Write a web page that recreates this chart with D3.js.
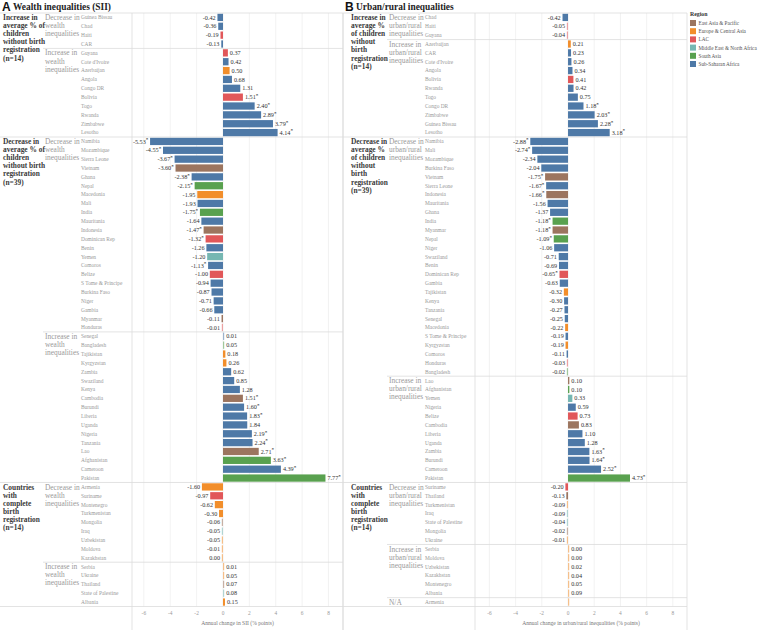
<!DOCTYPE html>
<html><head><meta charset="utf-8">
<script src="https://cdn.jsdelivr.net/npm/d3@7"></script>
<style>body{margin:0;background:#fff}svg{display:block}</style>
</head><body>
<svg id="c" width="764" height="630"></svg>
<script>
// ---------- data ----------
const regionNames = ["East Asia & Pacific","Europe & Central Asia","LAC","Middle East & North Africa","South Asia","Sub-Saharan Africa"];
const regionCodes = ["EAP","ECA","LAC","MENA","SA","SSA"];
const regionColors = ["#9c755f","#f28e2b","#e15759","#76b7b2","#59a14f","#4e79a7"];

const groupLabelsA = [
  ["Increase in","average % of","children","without birth","registration","(n=14)"],
  ["Decrease in","average % of","children","without birth","registration","(n=39)"],
  ["Countries","with","complete","birth","registration","(n=14)"]
];
const groupLabelsB = [
  ["Increase in","average %","of children","without","birth","registration","(n=14)"],
  ["Decrease in","average %","of children","without","birth","registration","(n=39)"],
  ["Countries","with","complete","birth","registration","(n=14)"]
];

const subLabelsA = [["Decrease in","wealth","inequalities"],["Increase in","wealth","inequalities"],
  ["Decrease in","wealth","inequalities"],["Increase in","wealth","inequalities"],
  ["Decrease in","wealth","inequalities"],["Increase in","wealth","inequalities"]];
const subSizesA = [4,10,22,17,9,5];
const subGroupA = [0,0,1,1,2,2];
const subSideA = [-1,1,-1,1,-1,1];

const subLabelsB = [["Decrease in","urban/rural","inequalities"],["Increase in","urban/rural","inequalities"],
  ["Decrease in","urban/rural","inequalities"],["Increase in","urban/rural","inequalities"],
  ["Decrease in","urban/rural","inequalities"],["Increase in","urban/rural","inequalities"],["N/A"]];
const subSizesB = [3,11,27,12,7,6,1];
const subGroupB = [0,0,1,1,2,2,2];
const subSideB = [-1,1,-1,1,-1,1,1];

const countriesA = ["Guinea Bissau","Chad","Haiti","CAR",
 "Guyana","Cote d'Ivoire","Azerbaijan","Angola","Congo DR","Bolivia","Togo","Rwanda","Zimbabwe","Lesotho",
 "Namibia","Mozambique","Sierra Leone","Vietnam","Ghana","Nepal","Macedonia","Mali","India","Mauritania","Indonesia","Dominican Rep","Benin","Yemen","Comoros","Belize","S Tome & Principe","Burkina Faso","Niger","Gambia","Myanmar","Honduras",
 "Senegal","Bangladesh","Tajikistan","Kyrgyzstan","Zambia","Swaziland","Kenya","Cambodia","Burundi","Liberia","Uganda","Nigeria","Tanzania","Lao","Afghanistan","Cameroon","Pakistan",
 "Armenia","Suriname","Montenegro","Turkmenistan","Mongolia","Iraq","Uzbekistan","Moldova","Kazakhstan",
 "Serbia","Ukraine","Thailand","State of Palestine","Albania"];
const valuesA = [-0.42,-0.36,-0.19,-0.13,
 0.37,0.42,0.50,0.68,1.31,1.51,2.40,2.89,3.79,4.14,
 -5.53,-4.55,-3.67,-3.60,-2.38,-2.15,-1.95,-1.93,-1.75,-1.64,-1.47,-1.32,-1.26,-1.20,-1.13,-1.00,-0.94,-0.87,-0.71,-0.66,-0.11,-0.01,
 0.01,0.05,0.18,0.26,0.62,0.85,1.28,1.51,1.60,1.83,1.84,2.19,2.24,2.71,3.63,4.39,7.77,
 -1.60,-0.97,-0.62,-0.30,-0.06,-0.05,-0.05,-0.01,0.00,
 0.01,0.05,0.07,0.08,0.15];
const regionsA = ["SSA","SSA","LAC","SSA",
 "LAC","SSA","ECA","SSA","SSA","LAC","SSA","SSA","SSA","SSA",
 "SSA","SSA","SSA","EAP","SSA","SA","ECA","SSA","SA","SSA","EAP","LAC","SSA","MENA","SSA","LAC","SSA","SSA","SSA","SSA","EAP","LAC",
 "SSA","SA","ECA","ECA","SSA","SSA","SSA","EAP","SSA","SSA","SSA","SSA","SSA","EAP","SA","SSA","SA",
 "ECA","LAC","ECA","ECA","EAP","MENA","ECA","ECA","ECA",
 "ECA","ECA","EAP","MENA","ECA"];
const starsA = [0,0,0,0,
 0,0,0,0,0,1,1,1,1,1,
 1,1,1,1,1,1,0,0,1,0,1,1,0,0,1,0,0,0,0,0,0,0,
 0,0,0,0,0,0,0,1,1,1,0,1,1,1,1,1,1,
 0,0,0,0,0,0,0,0,0,
 0,0,0,0,0];

const countriesB = ["Chad","Haiti","Guyana",
 "Azerbaijan","CAR","Cote d'Ivoire","Angola","Bolivia","Rwanda","Togo","Congo DR","Zimbabwe","Guinea Bissau","Lesotho",
 "Namibia","Mali","Mozambique","Burkina Faso","Vietnam","Sierra Leone","Indonesia","Mauritania","Ghana","India","Myanmar","Nepal","Niger","Swaziland","Benin","Dominican Rep","Gambia","Tajikistan","Kenya","Tanzania","Senegal","Macedonia","S Tome & Principe","Kyrgyzstan","Comoros","Honduras","Bangladesh",
 "Lao","Afghanistan","Yemen","Nigeria","Belize","Cambodia","Liberia","Uganda","Zambia","Burundi","Cameroon","Pakistan",
 "Suriname","Thailand","Turkmenistan","Iraq","State of Palestine","Mongolia","Ukraine",
 "Serbia","Moldova","Uzbekistan","Kazakhstan","Montenegro","Albania",
 "Armenia"];
const valuesB = [-0.42,-0.05,-0.04,
 0.21,0.23,0.26,0.34,0.41,0.42,0.75,1.18,2.03,2.28,3.18,
 -2.88,-2.74,-2.34,-2.04,-1.75,-1.67,-1.66,-1.56,-1.37,-1.18,-1.18,-1.09,-1.06,-0.71,-0.69,-0.65,-0.63,-0.32,-0.30,-0.27,-0.25,-0.22,-0.19,-0.19,-0.11,-0.03,-0.02,
 0.10,0.10,0.33,0.59,0.73,0.83,1.10,1.28,1.63,1.64,2.52,4.73,
 -0.20,-0.13,-0.09,-0.09,-0.04,-0.02,-0.01,
 0.00,0.00,0.02,0.04,0.05,0.09,
 null];
const regionsB = ["SSA","LAC","LAC",
 "ECA","SSA","SSA","SSA","LAC","SSA","SSA","SSA","SSA","SSA","SSA",
 "SSA","SSA","SSA","SSA","EAP","SSA","EAP","SSA","SSA","SA","EAP","SA","SSA","SSA","SSA","LAC","SSA","ECA","SSA","SSA","SSA","ECA","SSA","ECA","SSA","LAC","SA",
 "EAP","SA","MENA","SSA","LAC","EAP","SSA","SSA","SSA","SSA","SSA","SA",
 "LAC","EAP","ECA","MENA","MENA","EAP","ECA",
 "ECA","ECA","ECA","ECA","ECA","ECA",
 "ECA"];
const starsB = [0,0,0,
 0,0,0,0,0,0,0,1,1,1,1,
 1,1,0,0,1,1,1,0,0,1,1,1,0,0,0,1,0,0,0,0,0,0,0,0,0,0,0,
 0,0,0,0,0,0,0,0,1,1,1,1,
 0,0,0,0,0,0,0,
 0,0,0,0,0,0,
 0];

const ticks = [-6,-4,-2,0,2,4,6,8];

// ---------- drawing ----------
const svg = d3.select("#c");
const serif = "'Liberation Serif','DejaVu Serif',serif";
const color = d3.scaleOrdinal().domain(regionCodes).range(regionColors);
const lineCol = "#dcdcdc";
const fmt2 = d3.format(".2f");
const fmt = v => fmt2(v).replace("\u2212", "-");

const rowTop = 13, rowBottom = 606.5, axisBottom = 630;

function panel(cfg){
  const n = cfg.countries.length;
  const y = d3.scaleBand().domain(d3.range(n)).range([rowTop, rowBottom]).paddingInner(0.18).paddingOuter(0.09);
  const step = y.step();
  const yc = i => y(i) + y.bandwidth()/2;
  const x = d3.scaleLinear().domain(cfg.domain).range([cfg.chartL, cfg.chartR]);
  const g = svg.append("g");

  // side of each row (from its subgroup)
  const side = [];
  cfg.subSizes.forEach((sz,k) => { for (let j=0;j<sz;j++) side.push(cfg.subSide[k]); });

  // title
  g.append("text").attr("x", cfg.x0 + 2).attr("y", 10.5).attr("font-family","'Liberation Sans',Arial,sans-serif")
    .attr("font-weight","bold").attr("font-size",12).attr("fill","#111").text(cfg.letter);
  g.append("text").attr("x", cfg.x0 + 13).attr("y", 9.5).attr("font-family",serif)
    .attr("font-weight","bold").attr("font-size",9.4).attr("fill","#222").text(cfg.title);

  // gridlines
  g.selectAll(".grid").data(cfg.ticks).join("line")
    .attr("x1", d=>x(d)).attr("x2", d=>x(d)).attr("y1", rowTop).attr("y2", rowBottom)
    .attr("stroke","#efefef").attr("stroke-width",0.8);

  // vertical border lines
  g.append("line").attr("x1",cfg.chartL).attr("x2",cfg.chartL).attr("y1",rowTop).attr("y2",axisBottom).attr("stroke",lineCol).attr("stroke-width",0.8);
  g.append("line").attr("x1",cfg.chartR).attr("x2",cfg.chartR).attr("y1",rowTop).attr("y2",axisBottom).attr("stroke",lineCol).attr("stroke-width",0.8);
  if (cfg.leftBorder) g.append("line").attr("x1",cfg.x0).attr("x2",cfg.x0).attr("y1",rowTop).attr("y2",axisBottom).attr("stroke",lineCol).attr("stroke-width",0.8);

  // top line
  g.append("line").attr("x1",cfg.x0).attr("x2",cfg.chartR).attr("y1",rowTop).attr("y2",rowTop).attr("stroke",lineCol).attr("stroke-width",0.8);

  // subgroup + group structure
  let start = 0;
  const groupStart = {};
  cfg.subSizes.forEach((sz, k) => {
    const gi = cfg.subGroup[k];
    const top = rowTop + start*step;
    const isGroupStart = !(gi in groupStart);
    if (isGroupStart) groupStart[gi] = start;
    if (start > 0) {
      g.append("line").attr("x1", isGroupStart ? cfg.x0 : cfg.subX - 2).attr("x2", cfg.chartR)
        .attr("y1", top).attr("y2", top).attr("stroke", lineCol).attr("stroke-width",0.8);
    }
    const st = g.append("text").attr("font-family",serif).attr("font-size",7.4).attr("fill","#9a9a9a");
    cfg.subLabels[k].forEach((t, j) => st.append("tspan").attr("x", cfg.subX).attr("y", yc(start) + 2.6 + j*8.1).text(t));
    start += sz;
  });
  // bottom line
  g.append("line").attr("x1",cfg.x0).attr("x2",cfg.chartR).attr("y1",rowBottom).attr("y2",rowBottom).attr("stroke",lineCol).attr("stroke-width",0.8);

  // group labels
  Object.keys(groupStart).forEach(gi => {
    const t = g.append("text").attr("font-family",serif).attr("font-size",7.4).attr("font-weight","bold").attr("fill","#3a3a3a");
    cfg.groupLabels[gi].forEach((s, j) => t.append("tspan").attr("x", cfg.grpX).attr("y", yc(groupStart[gi]) + 2.6 + j*8.1).text(s));
  });

  // country names
  g.selectAll(".name").data(cfg.countries).join("text")
    .attr("x", cfg.nameX).attr("y", (d,i)=>yc(i)+1.9)
    .attr("font-family",serif).attr("font-size",5.4).attr("fill","#999").text(d=>d);

  // bars
  const idx = d3.range(n);
  const barW = i => Math.max(Math.abs(x(cfg.values[i] ?? 0) - x(0)), 1.2);
  g.selectAll(".bar").data(idx).join("rect")
    .attr("x", i => side[i] < 0 ? x(0) - barW(i) : x(0))
    .attr("width", barW)
    .attr("y", i => y(i)).attr("height", y.bandwidth())
    .attr("fill", i => color(cfg.regions[i]))
    .attr("fill-opacity", i => Math.abs(cfg.values[i] ?? 0) < 0.1 ? 0.55 : 1);

  // value labels
  const lab = g.selectAll(".val").data(idx.filter(i => cfg.values[i] !== null)).join("text")
    .attr("font-family",serif).attr("font-size",6.2).attr("fill","#333")
    .attr("y", i => yc(i) + 2.1)
    .attr("x", i => side[i] < 0 ? x(0) - barW(i) - 1.8 : x(0) + barW(i) + 2)
    .attr("text-anchor", i => side[i] < 0 ? "end" : "start");
  lab.append("tspan").text(i => fmt(cfg.values[i]));
  lab.filter(i => cfg.stars[i]).append("tspan").attr("dy",-2.3).attr("font-size",5).attr("font-weight","bold").text("*");

  // x axis
  g.append("g").selectAll("text").data(cfg.ticks).join("text")
    .attr("x", d=>x(d)).attr("y", 614.5).attr("text-anchor","middle")
    .attr("font-family",serif).attr("font-size",5.4).attr("fill","#999").text(d=>String(d));
  g.append("text").attr("x",(cfg.chartL+cfg.chartR)/2).attr("y",624.5).attr("text-anchor","middle")
    .attr("font-family",serif).attr("font-size",5.6).attr("fill","#777").text(cfg.axisTitle);
}

panel({x0:0, leftBorder:false, letter:"A", title:"Wealth inequalities (SII)", grpX:3, subX:45, nameX:81,
  chartL:132, chartR:343, domain:[-6.9, 9.1], ticks:ticks,
  countries:countriesA, values:valuesA, regions:regionsA, stars:starsA,
  groupLabels:groupLabelsA, subLabels:subLabelsA, subSizes:subSizesA, subGroup:subGroupA, subSide:subSideA,
  axisTitle:"Annual change in SII (% points)"});

panel({x0:343, leftBorder:true, letter:"B", title:"Urban/rural inequalities", grpX:351, subX:389, nameX:425,
  chartL:475, chartR:687, domain:[-7.1, 9.08], ticks:ticks,
  countries:countriesB, values:valuesB, regions:regionsB, stars:starsB,
  groupLabels:groupLabelsB, subLabels:subLabelsB, subSizes:subSizesB, subGroup:subGroupB, subSide:subSideB,
  axisTitle:"Annual change in urban/rural inequalities (% points)"});

// legend
const leg = svg.append("g").attr("transform","translate(690,0)");
leg.append("text").attr("x",0).attr("y",16).attr("font-family",serif).attr("font-weight","bold")
  .attr("font-size",5.8).attr("fill","#333").text("Region");
regionNames.forEach((r,i) => {
  leg.append("rect").attr("x",0).attr("y",20 + i*8.2).attr("width",6).attr("height",6).attr("fill",regionColors[i]);
  leg.append("text").attr("x",8.5).attr("y",25 + i*8.2).attr("font-family",serif).attr("font-size",5.2).attr("fill","#555").text(r);
});
</script>
</body></html>
